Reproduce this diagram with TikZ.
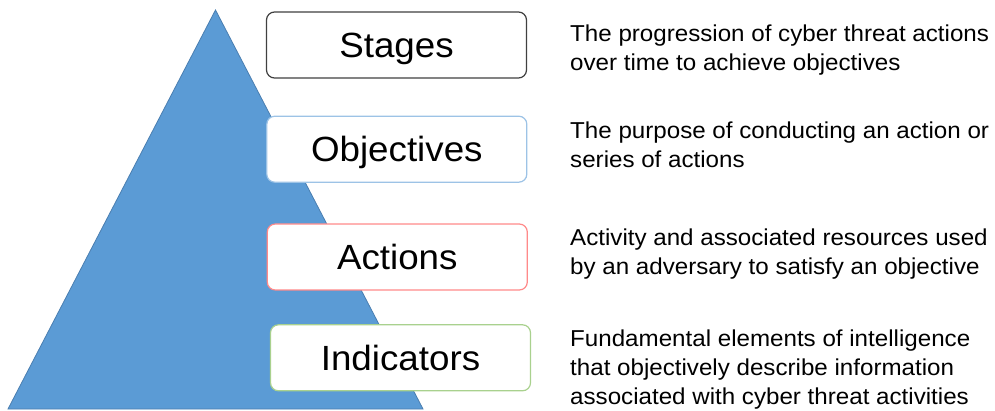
\documentclass[tikz,border=0pt]{standalone}
\usepackage{fontspec}
\setmainfont{Liberation Sans}[FakeStretch=1.05]
\definecolor{pyrfill}{HTML}{5B9BD5}
\definecolor{pyredge}{HTML}{4A7EB0}
\definecolor{stagesc}{HTML}{404040}
\definecolor{objc}{HTML}{9DC3E6}
\definecolor{actc}{HTML}{FF8A8A}
\definecolor{indc}{HTML}{A9D18E}
\tikzset{
  levelbox/.style={draw=#1, line width=1.2pt, fill=white, rounded corners=8pt,
    minimum width=260pt, minimum height=66pt, inner sep=0pt,
    text height=25.6pt, text depth=0pt,
    font=\fontsize{35}{40}\selectfont},
  desc/.style={anchor=north west, inner sep=0pt, align=left,
    font=\fontsize{23}{29}\selectfont}
}
\begin{document}
\begin{tikzpicture}[x=1pt,y=-1pt]
\useasboundingbox (0,0) rectangle (995,411);
\coordinate (apex) at (215.5,10);
\coordinate (bl) at (8,409);
\coordinate (br) at (423,409);
\fill[pyrfill] (apex) -- (br) -- (bl) -- cycle;
\draw[pyredge, line width=0.8pt, line join=miter] (apex) -- (br) -- (bl) -- cycle;

\node[levelbox=stagesc] (stages) at (396.5,45) {Stages};
\node[levelbox=objc] (objectives) at (396.8,149.2) {Objectives};
\node[levelbox=actc] (actions) at (397.3,257) {Actions};
\node[levelbox=indc] (indicators) at (400.5,357.8) {Indicators};

\node[desc] (d1) at (570,25) {The progression of cyber threat actions\\over time to achieve objectives};
\node[desc] (d2) at (570,121.3) {The purpose of conducting an action or\\series of actions};
\node[desc] (d3) at (570,228.5) {Activity and associated resources used\\by an adversary to satisfy an objective};
\node[desc] (d4) at (570,330) {Fundamental elements of intelligence\\that objectively describe information\\associated with cyber threat activities};
\end{tikzpicture}
\end{document}
